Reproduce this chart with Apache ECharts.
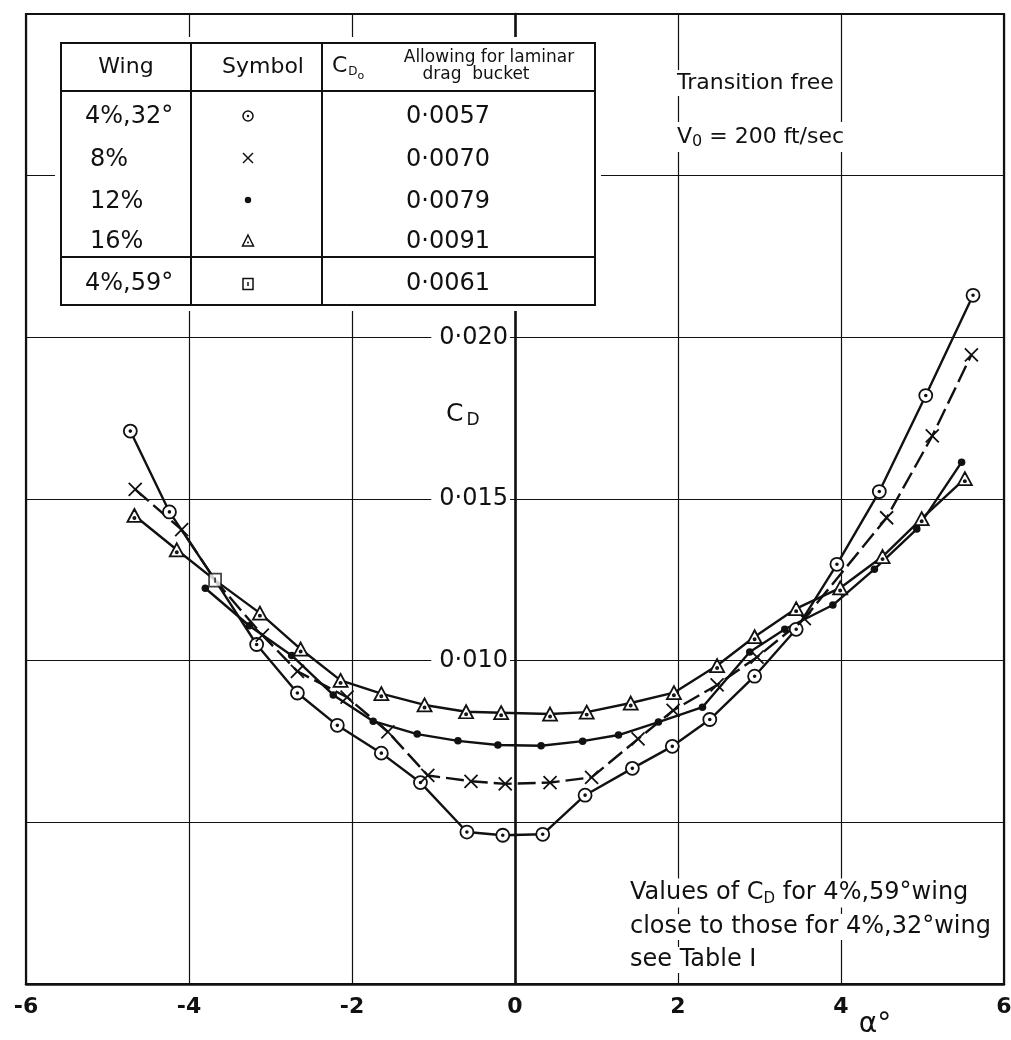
<!DOCTYPE html>
<html>
<head>
<meta charset="utf-8">
<script src="https://cdn.jsdelivr.net/npm/echarts@6/dist/echarts.min.js"></script>
<style>
  html, body { margin: 0; padding: 0; background: #fff; }
  #chart { width: 1011px; height: 1040px; }
</style>
</head>
<body>
<div id="chart"></div>
<script>
// Drag coefficient C_D against incidence α (deg), transition free, V0 = 200 ft/sec.
// Each series is a list of [alpha, C_D] pairs.
const wing4_32 = [
  [-4.72, 0.0171], [-4.24, 0.0146], [-3.68, 0.01249], [-3.17, 0.0105], [-2.67, 0.0090],
  [-2.18, 0.0080], [-1.64, 0.00714], [-1.16, 0.00623], [-0.59, 0.0047], [-0.15, 0.0046],
  [0.34, 0.00463], [0.86, 0.00584], [1.44, 0.00667], [1.93, 0.00735], [2.39, 0.00818],
  [2.94, 0.00952], [3.45, 0.01097], [3.95, 0.01298], [4.47, 0.01523], [5.04, 0.0182],
  [5.62, 0.0213]
];
const wing8 = [
  [-4.66, 0.0153], [-4.09, 0.01405], [-3.68, 0.01249], [-3.10, 0.01079], [-2.67, 0.00967],
  [-2.06, 0.00887], [-1.56, 0.0078], [-1.07, 0.00645], [-0.54, 0.00627], [-0.12, 0.00619],
  [0.43, 0.00623], [0.94, 0.00639], [1.51, 0.00758], [1.94, 0.00846], [2.48, 0.00925],
  [2.97, 0.01011], [3.55, 0.0113], [4.56, 0.01442], [5.12, 0.01695], [5.60, 0.01946]
];
const wing12 = [
  [-3.80, 0.01224], [-3.26, 0.01108], [-2.74, 0.01016], [-2.23, 0.00894], [-1.74, 0.00813],
  [-1.20, 0.00773], [-0.70, 0.00752], [-0.21, 0.00739], [0.32, 0.00737], [0.83, 0.00751],
  [1.27, 0.0077], [1.76, 0.0081], [2.30, 0.00856], [2.88, 0.01027], [3.31, 0.01097],
  [3.90, 0.01172], [4.41, 0.01283], [4.93, 0.01407], [5.48, 0.01614]
];
const wing16 = [
  [-4.67, 0.01449], [-4.15, 0.01343], [-3.68, 0.01249], [-3.13, 0.01147], [-2.63, 0.01036],
  [-2.14, 0.00939], [-1.64, 0.00898], [-1.11, 0.00863], [-0.60, 0.00842], [-0.17, 0.00839],
  [0.43, 0.00835], [0.88, 0.00841], [1.42, 0.00869], [1.95, 0.00901], [2.48, 0.00985],
  [2.94, 0.01074], [3.45, 0.01161], [3.99, 0.01225], [4.51, 0.01322], [4.99, 0.01439],
  [5.52, 0.01563]
];
const wing4_59 = [[-3.68, 0.01249]];

// Key table rows: wing, C_D0 allowing for laminar drag bucket
const tableWings = ['4%,32°', '8%', '12%', '16%', '4%,59°'];
const tableCd0 = ['0·0057', '0·0070', '0·0079', '0·0091', '0·0061'];

const xTickValues = [-6, -4, -2, 0, 2, 4, 6];
const yLabelledTicks = [0.010, 0.015, 0.020];

const FONT = '"DejaVu Sans", sans-serif';
const INK = '#111';

// Marker outlines (filled white, stroked black)
const MARK = {
  ring: 'path://M10,0A10,10,0,1,1,-10,0A10,10,0,1,1,10,0ZM1.4,0A1.4,1.4,0,1,1,-1.4,0A1.4,1.4,0,1,1,1.4,0Z',
  cross: 'path://M-10,-10L10,10M10,-10L-10,10',
  tri: 'path://M0,-11L10,7L-10,7ZM1.5,1.5A1.5,1.5,0,1,1,-1.5,1.5A1.5,1.5,0,1,1,1.5,1.5Z',
  box: 'path://M-9,-10H9V10H-9ZM0,-4V4'
};

const samePoint = (a, b) => a[0] === b[0] && a[1] === b[1];

function curve(name, pts, symbol, size, fill, dash) {
  return {
    type: 'line', name,
    symbol, symbolSize: size, showAllSymbol: true,
    // where a curve passes through the 4%,59° point only the square is drawn
    data: pts.map(p => samePoint(p, wing4_59[0]) ? { value: p, symbol: 'none' } : p),
    lineStyle: { color: INK, width: 2.4, type: dash || 'solid' },
    itemStyle: { color: fill, borderColor: INK, borderWidth: fill === INK ? 0 : 1.8 },
    emphasis: { disabled: true },
    z: 3
  };
}

const chart = echarts.init(document.getElementById('chart'), null, { renderer: 'canvas' });

// Key table drawn as graphic elements
const T = { x: 61, y: 43, w: 534, h: 262, head: 91, split: 257, c1: 191, c2: 322 };
const rowY = [117, 160, 202, 242, 284];
const symX = 248;
const thin = { stroke: INK, lineWidth: 1.5 };

const tableGraphics = [
  { type: 'rect', shape: { x: T.x - 6, y: T.y - 6, width: T.w + 12, height: T.h + 12 }, style: { fill: '#fff' } },
  { type: 'rect', shape: { x: T.x, y: T.y, width: T.w, height: T.h }, style: { fill: 'none', stroke: INK, lineWidth: 2 } },
  { type: 'line', shape: { x1: T.x, y1: T.head, x2: T.x + T.w, y2: T.head }, style: { stroke: INK, lineWidth: 2 } },
  { type: 'line', shape: { x1: T.x, y1: T.split, x2: T.x + T.w, y2: T.split }, style: { stroke: INK, lineWidth: 2 } },
  { type: 'line', shape: { x1: T.c1, y1: T.y, x2: T.c1, y2: T.y + T.h }, style: { stroke: INK, lineWidth: 2 } },
  { type: 'line', shape: { x1: T.c2, y1: T.y, x2: T.c2, y2: T.y + T.h }, style: { stroke: INK, lineWidth: 2 } },
  { type: 'text', x: 126, y: 67, style: { text: 'Wing', font: '22px ' + FONT, fill: INK, align: 'center', verticalAlign: 'middle' } },
  { type: 'text', x: 263, y: 67, style: { text: 'Symbol', font: '22px ' + FONT, fill: INK, align: 'center', verticalAlign: 'middle' } },
  { type: 'text', x: 332, y: 66, style: {
      text: '{c|C}{d|D}{o|o}', align: 'left', verticalAlign: 'middle', fill: INK,
      rich: {
        c: { fontFamily: FONT, fontSize: 22, fill: INK },
        d: { fontFamily: FONT, fontSize: 12, fill: INK, padding: [12, 0, 0, 1] },
        o: { fontFamily: FONT, fontSize: 11, fill: INK, padding: [20, 0, 0, 0] }
      } } },
  { type: 'text', x: 489, y: 58, style: { text: 'Allowing for laminar', font: '17px ' + FONT, fill: INK, align: 'center', verticalAlign: 'middle' } },
  { type: 'text', x: 476, y: 75, style: { text: 'drag  bucket', font: '17px ' + FONT, fill: INK, align: 'center', verticalAlign: 'middle' } },
  // symbols column
  { type: 'circle', shape: { cx: symX, cy: 116, r: 5 }, style: Object.assign({ fill: '#fff' }, thin) },
  { type: 'circle', shape: { cx: symX, cy: 116, r: 1.2 }, style: { fill: INK } },
  { type: 'line', shape: { x1: symX - 5, y1: 153, x2: symX + 5, y2: 163 }, style: thin },
  { type: 'line', shape: { x1: symX + 5, y1: 153, x2: symX - 5, y2: 163 }, style: thin },
  { type: 'circle', shape: { cx: symX, cy: 200, r: 3.2 }, style: { fill: INK } },
  { type: 'polygon', shape: { points: [[symX, 235], [symX + 5.5, 246], [symX - 5.5, 246]] }, style: Object.assign({ fill: '#fff' }, thin) },
  { type: 'circle', shape: { cx: symX, cy: 242.5, r: 1 }, style: { fill: INK } },
  { type: 'rect', shape: { x: symX - 5, y: 278.5, width: 10, height: 11 }, style: Object.assign({ fill: '#fff' }, thin) },
  { type: 'line', shape: { x1: symX, y1: 282, x2: symX, y2: 286 }, style: thin }
];
tableWings.forEach((w, i) => {
  tableGraphics.push({ type: 'text', x: i === 1 || i === 2 || i === 3 ? 90 : 85, y: rowY[i],
    style: { text: w, font: '24px ' + FONT, fill: INK, align: 'left', verticalAlign: 'middle' } });
});
tableCd0.forEach((v, i) => {
  tableGraphics.push({ type: 'text', x: 448, y: rowY[i],
    style: { text: v, font: '24px ' + FONT, fill: INK, align: 'center', verticalAlign: 'middle' } });
});

const noteGraphics = [
  { type: 'text', x: 675, y: 83, style: { text: 'Transition free', font: '22px ' + FONT, fill: INK,
      align: 'left', verticalAlign: 'middle', backgroundColor: '#fff', padding: [2, 2] } },
  { type: 'text', x: 675, y: 137, style: {
      text: '{v|V}{s|0}{t| = 200 ft/sec}', align: 'left', verticalAlign: 'middle', backgroundColor: '#fff', padding: [2, 2],
      rich: {
        v: { fontFamily: FONT, fontSize: 22, fill: INK },
        s: { fontFamily: FONT, fontSize: 16, fill: INK, padding: [10, 0, 0, 0] },
        t: { fontFamily: FONT, fontSize: 22, fill: INK }
      } } },
  { type: 'text', x: 446, y: 414, style: {
      text: '{c|C}{d|D}', align: 'left', verticalAlign: 'middle',
      rich: {
        c: { fontFamily: FONT, fontSize: 25, fill: INK },
        d: { fontFamily: FONT, fontSize: 17, fill: INK, padding: [14, 0, 0, 3] }
      } } },
  { type: 'text', x: 628, y: 893, style: {
      text: '{a|Values of }{c|C}{d|D}{a| for 4%,59°wing}', align: 'left', verticalAlign: 'middle',
      backgroundColor: '#fff', padding: [1, 2],
      rich: {
        a: { fontFamily: FONT, fontSize: 24, fill: INK },
        c: { fontFamily: FONT, fontSize: 24, fill: INK },
        d: { fontFamily: FONT, fontSize: 15, fill: INK, padding: [12, 0, 0, 0] }
      } } },
  { type: 'text', x: 628, y: 927, style: { text: 'close to those for 4%,32°wing', font: '24px ' + FONT, fill: INK,
      align: 'left', verticalAlign: 'middle', backgroundColor: '#fff', padding: [1, 2] } },
  { type: 'text', x: 628, y: 960, style: { text: 'see Table I', font: '24px ' + FONT, fill: INK,
      align: 'left', verticalAlign: 'middle', backgroundColor: '#fff', padding: [1, 2] } },
  { type: 'text', x: 875, y: 1025, style: { text: 'α°', font: '28px ' + FONT, fill: INK,
      align: 'center', verticalAlign: 'middle' } }
];

const GRID = { left: 26, right: 7, top: 14, bottom: 56 };
const plotWidth = 1011 - GRID.left - GRID.right;
// the C_D scale sits on the α = 0 line
const zeroOffset = -plotWidth * (0 - (-6)) / 12;

const option = {
  backgroundColor: '#fff',
  animation: false,
  grid: Object.assign({ show: true, borderColor: INK, borderWidth: 2.2, outerBoundsMode: 'none', containLabel: false }, GRID),
  xAxis: {
    type: 'value', min: -6, max: 6, interval: 2,
    axisLine: { show: true, onZero: false, lineStyle: { color: INK, width: 2.5 } },
    axisTick: { show: false },
    splitLine: { show: true, lineStyle: { color: INK, width: 1.2 } },
    axisLabel: {
      show: true, margin: 12, showMinLabel: true, showMaxLabel: true, hideOverlap: false,
      fontFamily: FONT, fontSize: 22, fontWeight: 'bold', color: INK,
      formatter: v => xTickValues.includes(v) ? (v < 0 ? '-' + Math.abs(v) : String(v)) : ''
    }
  },
  yAxis: {
    type: 'value', min: 0, max: 0.030, interval: 0.005,
    position: 'left', offset: zeroOffset,
    axisLine: { show: true, onZero: false, lineStyle: { color: INK, width: 2.6 } },
    axisTick: { show: false },
    splitLine: { show: true, lineStyle: { color: INK, width: 1.2 } },
    axisLabel: {
      show: true, margin: 5, inside: false, hideOverlap: false,
      color: INK,
      rich: {
        v: { fontFamily: FONT, fontSize: 24, color: INK, backgroundColor: '#fff', padding: [2, 2, 2, 8] }
      },
      formatter: v => {
        const m = Math.round(v * 1000);
        return yLabelledTicks.some(t => Math.round(t * 1000) === m) ? '{v|0·' + String(m).padStart(3, '0') + '}' : '';
      }
    }
  },
  graphic: { elements: tableGraphics.concat(noteGraphics).map(e => Object.assign({ z: 100 }, e)) },
  series: [
    curve('4%,32°', wing4_32, MARK.ring, 13, '#fff'),
    curve('8%', wing8, MARK.cross, 13, '#fff', [18, 6]),
    curve('12%', wing12, 'circle', 7.5, INK),
    curve('16%', wing16, MARK.tri, [14, 13], '#fff'),
    {
      type: 'scatter', name: '4%,59°', data: wing4_59,
      symbol: MARK.box, symbolSize: [12, 13],
      itemStyle: { color: '#fff', borderColor: INK, borderWidth: 1.8 },
      emphasis: { disabled: true }, z: 5
    }
  ]
};

chart.setOption(option);
</script>
</body>
</html>
